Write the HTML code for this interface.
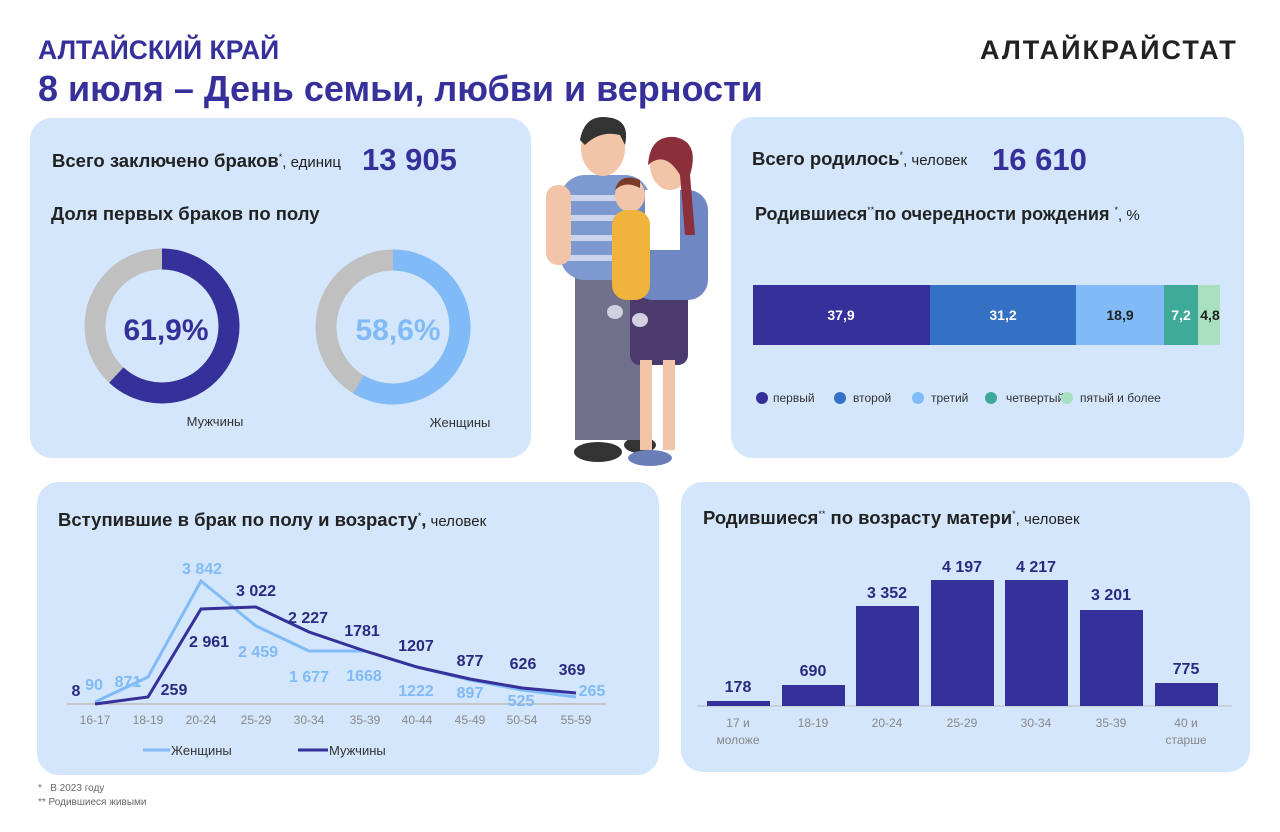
<!DOCTYPE html>
<html><head><meta charset="utf-8"><style>
body{margin:0;width:1280px;height:832px;background:#fff;font-family:"Liberation Sans",sans-serif;position:relative;overflow:hidden}
.p{position:absolute;background:#d3e6fb;border-radius:22px}
.t{position:absolute;white-space:nowrap}
</style></head><body>
<div class="t" style="left:38px;top:35px;font-size:26.5px;font-weight:bold;color:#35309a">АЛТАЙСКИЙ КРАЙ</div>
<div class="t" style="left:38px;top:68px;font-size:36px;font-weight:bold;color:#35309a">8 июля – День семьи, любви и верности</div>
<div class="t" style="left:980px;top:35px;font-size:27px;font-weight:bold;color:#222;letter-spacing:2px">АЛТАЙКРАЙСТАТ</div>

<div class="p" style="left:30px;top:118px;width:501px;height:340px"></div>
<div class="p" style="left:731px;top:117px;width:513px;height:341px"></div>
<div class="p" style="left:37px;top:482px;width:622px;height:293px"></div>
<div class="p" style="left:681px;top:482px;width:569px;height:290px"></div>

<div class="t" style="left:52px;top:150px;font-size:18.5px;font-weight:bold;color:#222">Всего заключено браков<sup style="font-size:9px;font-weight:normal">*</sup><span style="font-size:15px;font-weight:normal">, единиц</span></div>
<div class="t" style="left:362px;top:142px;font-size:31px;font-weight:bold;color:#35309a">13 905</div>
<div class="t" style="left:51px;top:203px;font-size:18.5px;font-weight:bold;color:#222">Доля первых браков по полу</div>
<svg style="position:absolute;left:0;top:0" width="1280" height="832">
<g transform="rotate(-90 162 326)">
<circle cx="162" cy="326" r="67" fill="none" stroke="#c0c0c0" stroke-width="21"/>
<circle cx="162" cy="326" r="67" fill="none" stroke="#35309a" stroke-width="21" stroke-dasharray="260.6 500"/>
</g>
<g transform="rotate(-90 393 327)">
<circle cx="393" cy="327" r="67" fill="none" stroke="#c0c0c0" stroke-width="21"/>
<circle cx="393" cy="327" r="67" fill="none" stroke="#80bbf7" stroke-width="21" stroke-dasharray="246.7 500"/>
</g>
<text x="166" y="340" text-anchor="middle" font-size="30" font-weight="bold" fill="#35309a" font-family="Liberation Sans">61,9%</text>
<text x="398" y="340" text-anchor="middle" font-size="30" font-weight="bold" fill="#80bbf7" font-family="Liberation Sans">58,6%</text>
<text x="215" y="426" text-anchor="middle" font-size="13" fill="#333" font-family="Liberation Sans">Мужчины</text>
<text x="460" y="427" text-anchor="middle" font-size="13" fill="#333" font-family="Liberation Sans">Женщины</text>

<rect x="753" y="285" width="177" height="60" fill="#35309a"/>
<rect x="930" y="285" width="146" height="60" fill="#3470c4"/>
<rect x="1076" y="285" width="88" height="60" fill="#80bbf7"/>
<rect x="1164" y="285" width="34" height="60" fill="#3fa99a"/>
<rect x="1198" y="285" width="22" height="60" fill="#a8e0c0"/>
<g font-family="Liberation Sans" font-size="14" font-weight="bold" text-anchor="middle">
<text x="841" y="320" fill="#fff">37,9</text><text x="1003" y="320" fill="#fff">31,2</text>
<text x="1120" y="320" fill="#222">18,9</text><text x="1181" y="320" fill="#fff">7,2</text><text x="1210" y="320" fill="#222">4,8</text>
</g>
<g font-family="Liberation Sans" font-size="12" fill="#333">
<circle cx="762" cy="398" r="6" fill="#35309a"/><text x="773" y="402">первый</text>
<circle cx="840" cy="398" r="6" fill="#3470c4"/><text x="853" y="402">второй</text>
<circle cx="918" cy="398" r="6" fill="#80bbf7"/><text x="931" y="402">третий</text>
<circle cx="991" cy="398" r="6" fill="#3fa99a"/><text x="1006" y="402">четвертый</text>
<circle cx="1067" cy="398" r="6" fill="#a8e0c0"/><text x="1080" y="402">пятый  и более</text>
</g>

<line x1="67" y1="704" x2="606" y2="704" stroke="#bbb" stroke-width="1.5"/>
<polyline fill="none" stroke="#80bbf7" stroke-width="3" points="95,702 148,677 201,581 256,626 309,651 365,651 417,667 470,680 522,690 576,697"/>
<polyline fill="none" stroke="#35309a" stroke-width="3" points="95,704 148,697 201,609 256,607 309,632 365,651 417,667 470,679 522,688 576,693"/>
<g font-family="Liberation Sans" font-size="16" font-weight="bold" text-anchor="middle" fill="#80bbf7">
<text x="202" y="574">3 842</text><text x="128" y="687">871</text><text x="94" y="690">90</text><text x="258" y="657">2 459</text>
<text x="309" y="682">1 677</text><text x="364" y="681">1668</text><text x="416" y="696">1222</text><text x="470" y="698">897</text><text x="521" y="706">525</text><text x="592" y="696">265</text>
</g>
<g font-family="Liberation Sans" font-size="16" font-weight="bold" text-anchor="middle" fill="#2a2a80">
<text x="76" y="696">8</text><text x="174" y="695">259</text><text x="209" y="647">2 961</text><text x="256" y="596">3 022</text>
<text x="308" y="623">2 227</text><text x="362" y="636">1781</text><text x="416" y="651">1207</text><text x="470" y="666">877</text><text x="523" y="669">626</text><text x="572" y="675">369</text>
</g>
<g font-family="Liberation Sans" font-size="12" fill="#888" text-anchor="middle">
<text x="95" y="724">16-17</text><text x="148" y="724">18-19</text><text x="201" y="724">20-24</text><text x="256" y="724">25-29</text><text x="309" y="724">30-34</text><text x="365" y="724">35-39</text><text x="417" y="724">40-44</text><text x="470" y="724">45-49</text><text x="522" y="724">50-54</text><text x="576" y="724">55-59</text>
</g>
<line x1="143" y1="750" x2="170" y2="750" stroke="#80bbf7" stroke-width="3"/>
<line x1="298" y1="750" x2="328" y2="750" stroke="#35309a" stroke-width="3"/>
<g font-family="Liberation Sans" font-size="13" fill="#333"><text x="171" y="755">Женщины</text><text x="329" y="755">Мужчины</text></g>

<line x1="697" y1="706" x2="1232" y2="706" stroke="#bbb" stroke-width="1"/>
<g fill="#35309a">
<rect x="707" y="701" width="63" height="5"/><rect x="782" y="685" width="63" height="21"/><rect x="856" y="606" width="63" height="100"/>
<rect x="931" y="580" width="63" height="126"/><rect x="1005" y="580" width="63" height="126"/><rect x="1080" y="610" width="63" height="96"/><rect x="1155" y="683" width="63" height="23"/>
</g>
<g font-family="Liberation Sans" font-size="16" font-weight="bold" text-anchor="middle" fill="#2a2a80">
<text x="738" y="692">178</text><text x="813" y="676">690</text><text x="887" y="598">3 352</text><text x="962" y="572">4 197</text><text x="1036" y="572">4 217</text><text x="1111" y="600">3 201</text><text x="1186" y="674">775</text>
</g>
<g font-family="Liberation Sans" font-size="12" fill="#888" text-anchor="middle">
<text x="738" y="727">17 и</text><text x="738" y="744">моложе</text><text x="813" y="727">18-19</text><text x="887" y="727">20-24</text><text x="962" y="727">25-29</text><text x="1036" y="727">30-34</text><text x="1111" y="727">35-39</text><text x="1186" y="727">40 и</text><text x="1186" y="744">старше</text>
</g>

<g>
<ellipse cx="598" cy="452" rx="24" ry="10" fill="#333"/><ellipse cx="640" cy="445" rx="16" ry="8" fill="#333"/>
<ellipse cx="650" cy="458" rx="22" ry="8" fill="#6a7fb8"/>
<rect x="575" y="275" width="65" height="165" fill="#70708a"/>
<rect x="560" y="175" width="90" height="105" rx="25" fill="#7d99cf"/>
<rect x="560" y="195" width="90" height="6" fill="#fff" opacity=".6"/><rect x="560" y="215" width="90" height="6" fill="#fff" opacity=".6"/><rect x="560" y="235" width="90" height="6" fill="#fff" opacity=".6"/><rect x="560" y="255" width="90" height="6" fill="#fff" opacity=".6"/>
<rect x="546" y="185" width="25" height="80" rx="12" fill="#f2c4a8"/>
<ellipse cx="603" cy="148" rx="22" ry="28" fill="#f2c4a8"/>
<path d="M580 140 Q585 112 612 118 Q630 122 625 145 L620 135 Q600 130 585 145Z" fill="#333"/>
<rect x="630" y="255" width="58" height="110" rx="10" fill="#4b3a6e"/>
<rect x="633" y="190" width="75" height="110" rx="20" fill="#6f88c4"/>
<rect x="645" y="190" width="35" height="60" fill="#fff"/>
<rect x="640" y="360" width="12" height="90" fill="#f2c4a8"/><rect x="663" y="360" width="12" height="90" fill="#f2c4a8"/>
<ellipse cx="670" cy="165" rx="20" ry="25" fill="#f2c4a8"/>
<path d="M648 165 Q650 135 675 137 Q700 142 690 175 L695 235 L685 235 L680 175 Q665 150 648 165Z" fill="#8b2f3a"/>
<ellipse cx="630" cy="195" rx="15" ry="17" fill="#f2c4a8"/>
<path d="M615 190 Q620 172 640 180 L640 188 Q625 180 615 190Z" fill="#7a3b2a"/>
<rect x="612" y="210" width="38" height="90" rx="15" fill="#f0b33b"/>
<ellipse cx="615" cy="312" rx="8" ry="7" fill="#d0d0e0"/><ellipse cx="640" cy="320" rx="8" ry="7" fill="#d0d0e0"/>
</g>
</svg>

<div class="t" style="left:752px;top:148px;font-size:18.5px;font-weight:bold;color:#222">Всего родилось<sup style="font-size:9px;font-weight:normal">*</sup><span style="font-size:15px;font-weight:normal">, человек</span></div>
<div class="t" style="left:992px;top:142px;font-size:31px;font-weight:bold;color:#35309a">16 610</div>
<div class="t" style="left:755px;top:204px;font-size:18px;font-weight:bold;color:#222">Родившиеся<sup style="font-size:9px;font-weight:normal">**</sup>по очередности рождения <sup style="font-size:9px;font-weight:normal">*</sup><span style="font-size:15px;font-weight:normal">, %</span></div>
<div class="t" style="left:58px;top:509px;font-size:18.5px;font-weight:bold;color:#222">Вступившие в брак по полу и возрасту<sup style="font-size:9px;font-weight:normal">*</sup>,<span style="font-size:15px;font-weight:normal"> человек</span></div>
<div class="t" style="left:703px;top:507px;font-size:18.5px;font-weight:bold;color:#222">Родившиеся<sup style="font-size:9px;font-weight:normal">**</sup> по возрасту матери<sup style="font-size:9px;font-weight:normal">*</sup><span style="font-size:15px;font-weight:normal">, человек</span></div>
<div class="t" style="left:38px;top:783px;font-size:10px;color:#666">*&nbsp;&nbsp;&nbsp;В 2023 году</div>
<div class="t" style="left:38px;top:797px;font-size:10px;color:#666">** Родившиеся живыми</div>
</body></html>
